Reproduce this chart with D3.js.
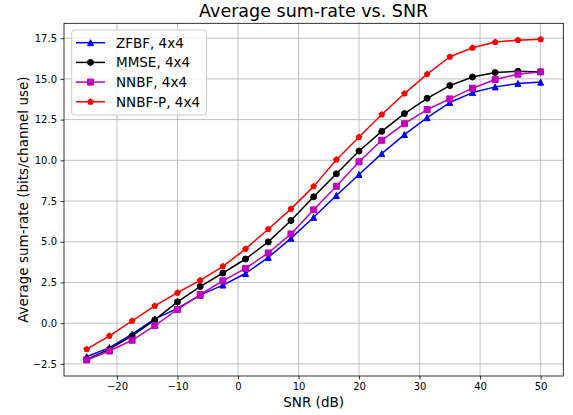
<!DOCTYPE html>
<html>
<head>
<meta charset="utf-8">
<script src="https://cdn.jsdelivr.net/npm/d3@7"></script>
<style>
  body { margin: 0; background: #fff; }
  svg { display: block; font-family: "DejaVu Sans", sans-serif; }
</style>
</head>
<body>
<div id="chart"></div>
<script>
// SNR points (dB)
var snr = [-25, -21.25, -17.5, -13.75, -10, -6.25, -2.5, 1.25, 5, 8.75, 12.5,
           16.25, 20, 23.75, 27.5, 31.25, 35, 38.75, 42.5, 46.25, 50];

// sum-rate
var zfbf  = [-2.06, -1.50, -0.68, 0.26, 0.90, 1.72, 2.34, 3.05, 4.04, 5.21, 6.50,
             7.84, 9.13, 10.41, 11.58, 12.62, 13.55, 14.16, 14.51, 14.72, 14.80];
var mmse  = [-2.22, -1.60, -0.78, 0.20, 1.31, 2.25, 3.08, 3.94, 4.99, 6.30, 7.76,
             9.17, 10.57, 11.78, 12.87, 13.81, 14.59, 15.12, 15.39, 15.47, 15.43];
var nnbf  = [-2.26, -1.71, -1.05, -0.15, 0.84, 1.76, 2.60, 3.36, 4.31, 5.48, 6.96,
             8.41, 9.91, 11.23, 12.25, 13.12, 13.77, 14.43, 14.96, 15.29, 15.43];
var nnbfp = [-1.60, -0.78, 0.14, 1.06, 1.87, 2.63, 3.49, 4.56, 5.77, 7.02, 8.40,
             10.04, 11.43, 12.81, 14.10, 15.29, 16.36, 16.91, 17.26, 17.38, 17.43];

var seriesNames = ["ZFBF, 4x4", "MMSE, 4x4", "NNBF, 4x4", "NNBF-P, 4x4"];
var xTicks = [-20, -10, 0, 10, 20, 30, 40, 50];
var yTicks = [-2.5, 0, 2.5, 5, 7.5, 10, 12.5, 15, 17.5];

var series = [
  {name: seriesNames[0], values: zfbf,  color: "#0000ff", marker: "tri"},
  {name: seriesNames[1], values: mmse,  color: "#000000", marker: "circle"},
  {name: seriesNames[2], values: nnbf,  color: "#bf00bf", marker: "square"},
  {name: seriesNames[3], values: nnbfp, color: "#ff0000", marker: "penta"}
];

var W = 573, H = 415;
var plotL = 64, plotR = 563.3, plotT = 23.3, plotB = 376;

var svg = d3.select("#chart").append("svg")
  .attr("width", W).attr("height", H);

// matplotlib-like 5% margins
var xMin = d3.min(snr), xMax = d3.max(snr);
var xPad = (xMax - xMin) * 0.05;
var allY = zfbf.concat(mmse, nnbf, nnbfp);
var yMin = d3.min(allY), yMax = d3.max(allY);
var yPad = (yMax - yMin) * 0.05;

var x = d3.scaleLinear().domain([xMin - xPad, xMax + xPad]).range([plotL, plotR]);
var y = d3.scaleLinear().domain([yMin - yPad, yMax + yPad]).range([plotB, plotT]);

// grid
var grid = svg.append("g");
grid.selectAll(".gx").data(xTicks).enter().append("line")
  .attr("x1", function(d) { return x(d); }).attr("x2", function(d) { return x(d); })
  .attr("y1", plotT).attr("y2", plotB)
  .attr("stroke", "#b0b0b0").attr("stroke-width", 0.8);
grid.selectAll(".gy").data(yTicks).enter().append("line")
  .attr("y1", function(d) { return y(d); }).attr("y2", function(d) { return y(d); })
  .attr("x1", plotL).attr("x2", plotR)
  .attr("stroke", "#b0b0b0").attr("stroke-width", 0.8);

// axes
var xAxis = d3.axisBottom(x).tickValues(xTicks).tickFormat(d3.format("d"))
  .tickSize(3.5).tickPadding(3.5).tickSizeOuter(0);
var yAxis = d3.axisLeft(y).tickValues(yTicks).tickFormat(d3.format(".1f"))
  .tickSize(3.5).tickPadding(3.5).tickSizeOuter(0);

var gx = svg.append("g").attr("transform", "translate(0," + plotB + ")").call(xAxis);
var gy = svg.append("g").attr("transform", "translate(" + plotL + ",0)").call(yAxis);
[gx, gy].forEach(function(g) {
  g.select(".domain").remove();
  g.selectAll(".tick line").attr("stroke", "#000").attr("stroke-width", 0.8);
  g.selectAll(".tick text").attr("fill", "#000")
    .attr("font-size", 10).attr("font-family", "DejaVu Sans");
});

function markerPath(type) {
  if (type === "tri") return "M0,-3L-3,3L3,3Z";
  if (type === "square") return "M-3,-3H3V3H-3Z";
  if (type === "penta") {
    var pts = d3.range(5).map(function(i) {
      var a = -Math.PI / 2 + i * 2 * Math.PI / 5;
      return [3 * Math.cos(a), 3 * Math.sin(a)];
    });
    return "M" + pts.join("L") + "Z";
  }
  return "M3,0A3,3 0 1,1 -3,0A3,3 0 1,1 3,0Z";
}

// lines + markers
var line = d3.line()
  .x(function(d, i) { return x(snr[i]); })
  .y(function(d) { return y(d); });

series.forEach(function(s) {
  var g = svg.append("g");
  g.append("path").datum(s.values)
    .attr("d", line).attr("fill", "none")
    .attr("stroke", s.color).attr("stroke-width", 1.5)
    .attr("stroke-linejoin", "round").attr("stroke-linecap", "square");
  g.selectAll("path.mk").data(s.values).enter().append("path")
    .attr("class", "mk")
    .attr("d", markerPath(s.marker))
    .attr("transform", function(d, i) { return "translate(" + x(snr[i]) + "," + y(d) + ")"; })
    .attr("fill", s.color).attr("stroke", s.color).attr("stroke-width", 1);
});

// frame
svg.append("rect")
  .attr("x", plotL).attr("y", plotT)
  .attr("width", plotR - plotL).attr("height", plotB - plotT)
  .attr("fill", "none").attr("stroke", "#000").attr("stroke-width", 0.8);

// legend
var leg = svg.append("g");
leg.append("rect")
  .attr("x", 71.7).attr("y", 30).attr("width", 135).attr("height", 85)
  .attr("rx", 2.5).attr("fill", "#fff").attr("fill-opacity", 0.8)
  .attr("stroke", "#cccccc").attr("stroke-width", 1);
series.forEach(function(s, i) {
  var ly = 42.7 + i * 19.7;
  leg.append("line").attr("x1", 76).attr("x2", 105).attr("y1", ly).attr("y2", ly)
    .attr("stroke", s.color).attr("stroke-width", 1.5);
  leg.append("path").attr("d", markerPath(s.marker))
    .attr("transform", "translate(90.5," + ly + ")")
    .attr("fill", s.color).attr("stroke", s.color).attr("stroke-width", 1);
  leg.append("text").attr("x", 116).attr("y", ly).attr("dy", "0.36em")
    .attr("font-size", 13.5).attr("fill", "#000").text(s.name);
});

// title and labels
svg.append("text")
  .attr("x", (plotL + plotR) / 2).attr("y", 17.3)
  .attr("text-anchor", "middle").attr("font-size", 17.5).attr("fill", "#000")
  .text("Average sum-rate vs. SNR");

svg.append("text")
  .attr("x", (plotL + plotR) / 2).attr("y", 406.5)
  .attr("text-anchor", "middle").attr("font-size", 13.5).attr("fill", "#000")
  .text("SNR (dB)");

svg.append("text")
  .attr("transform", "translate(28," + ((plotT + plotB) / 2) + ") rotate(-90)")
  .attr("text-anchor", "middle").attr("font-size", 13.5).attr("fill", "#000")
  .text("Average sum-rate (bits/channel use)");
</script>
</body>
</html>
